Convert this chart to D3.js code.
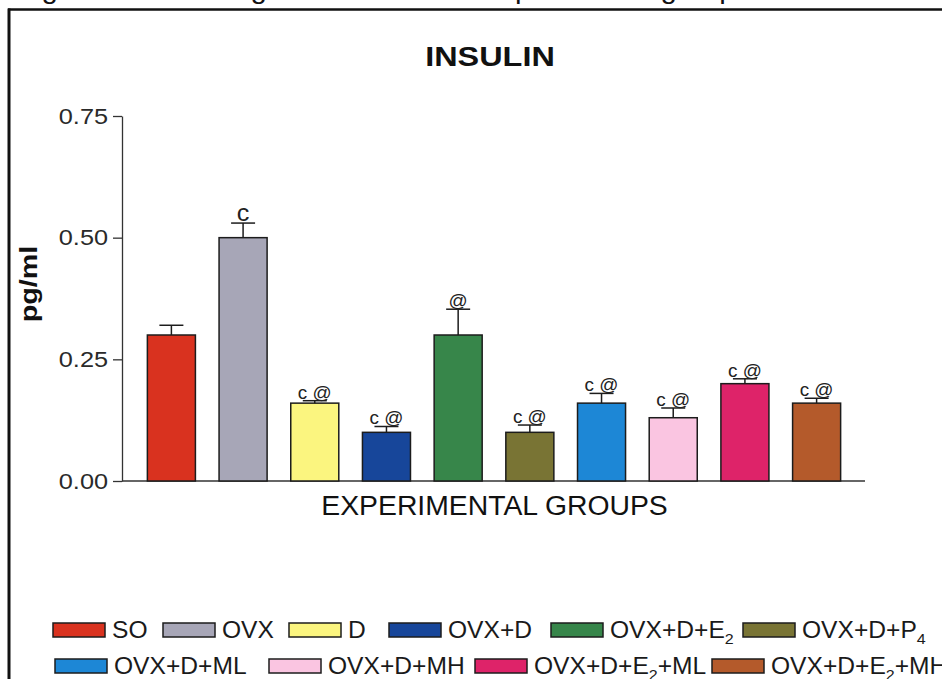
<!DOCTYPE html>
<html>
<head>
<meta charset="utf-8">
<script src="https://cdn.jsdelivr.net/npm/d3@7"></script>
<style>
  html, body { margin: 0; padding: 0; background: #fff; }
  svg { display: block; }
  text { font-family: "Liberation Sans", Arial, Helvetica, sans-serif; }
</style>
</head>
<body>
<svg id="chart" width="942" height="679"></svg>
<script>
// Fasting insulin per experimental group (mean, SEM and significance marks)
const groups = ["SO", "OVX", "D", "OVX+D", "OVX+D+E2", "OVX+D+P4",
                "OVX+D+ML", "OVX+D+MH", "OVX+D+E2+ML", "OVX+D+E2+MH"];
const insulin = [0.30, 0.50, 0.16, 0.10, 0.30, 0.10, 0.16, 0.13, 0.20, 0.16];
const sem     = [0.02, 0.03, 0.005, 0.012, 0.053, 0.015, 0.02, 0.02, 0.01, 0.01];
const marks   = ["", "c", "c @", "c @", "@", "c @", "c @", "c @", "c @", "c @"];
const colors  = ["#d9321f", "#a7a6b7", "#fbf57f", "#17469a", "#37864a", "#797434",
                 "#1d87d6", "#fac5e1", "#de2369", "#b45a2b"];
const yTicks  = [0, 0.25, 0.50, 0.75];
const legendRows = [[0, 1, 2, 3, 4, 5], [6, 7, 8, 9]];

const svg = d3.select("#chart");
const ink = "#1c1c1c";

// text drawn at (x, y) and widened horizontally by factor k
function wideText(g, x, y, k, anchor) {
  return g.append("text")
    .attr("transform", `translate(${x},${y}) scale(${k},1)`)
    .attr("text-anchor", anchor || "start");
}

// write a group name with E2 / P4 digits as subscripts
function writeLabel(textSel, name, subSize) {
  const parts = name.split(/(E2|P4)/).filter(s => s.length);
  let lowered = false;
  parts.forEach(p => {
    if (p === "E2" || p === "P4") {
      textSel.append("tspan").attr("dy", lowered ? -6 : null).text(p[0]);
      textSel.append("tspan").attr("dy", 6).attr("font-size", subSize).text(p[1]);
      lowered = true;
    } else {
      textSel.append("tspan").attr("dy", lowered ? -6 : null).text(p);
      lowered = false;
    }
  });
}

// caption line running above the frame
wideText(svg, 17, -2, 1.05).attr("font-size", 28).attr("fill", "#111")
  .text("Figure 13D Fasting insulin in all the experimental groups");

// frame
svg.append("line").attr("x1", 8).attr("x2", 942).attr("y1", 9.5).attr("y2", 9.5)
  .attr("stroke", "#111").attr("stroke-width", 2.5);
svg.append("line").attr("x1", 9).attr("x2", 9).attr("y1", 8.5).attr("y2", 679)
  .attr("stroke", "#111").attr("stroke-width", 3);

// scales
const x = d3.scaleBand().domain(groups).range([123, 865])
  .paddingInner(0.33).paddingOuter(0.34);
const y = d3.scaleLinear().domain([0, 0.75]).range([481, 116]);

// y axis
const tickSize = 9, tickPad = 5, tickK = 1.15;
const yAxis = svg.append("g").attr("transform", "translate(122,0)")
  .call(d3.axisLeft(y).tickValues(yTicks).tickFormat(d3.format(".2f"))
    .tickSize(tickSize).tickSizeOuter(0).tickPadding(tickPad));
yAxis.select(".domain").attr("stroke", "#333").attr("stroke-width", 1.3);
yAxis.selectAll(".tick line").attr("stroke", "#333").attr("stroke-width", 1.3);
yAxis.selectAll(".tick text")
  .attr("font-size", 22).attr("fill", "#2a2a2a")
  .attr("font-family", "'Liberation Sans', Arial, sans-serif")
  .attr("x", -(tickSize + tickPad) / tickK)
  .attr("transform", `scale(${tickK},1)`);

// x baseline
svg.append("line").attr("x1", 122).attr("x2", 865).attr("y1", y(0)).attr("y2", y(0))
  .attr("stroke", "#333").attr("stroke-width", 1.3);

// bars
const bars = svg.append("g");
bars.selectAll("rect").data(groups).join("rect")
  .attr("x", d => x(d))
  .attr("width", x.bandwidth())
  .attr("y", (d, i) => y(insulin[i]))
  .attr("height", (d, i) => y(0) - y(insulin[i]))
  .attr("fill", (d, i) => colors[i])
  .attr("stroke", ink).attr("stroke-width", 1.5);

// upper error bars
const capHalf = 12;
const err = svg.append("g").attr("stroke", ink).attr("stroke-width", 1.5);
groups.forEach((g, i) => {
  const cx = x(g) + x.bandwidth() / 2;
  const top = y(insulin[i] + sem[i]);
  err.append("line").attr("x1", cx).attr("x2", cx).attr("y1", y(insulin[i])).attr("y2", top);
  err.append("line").attr("x1", cx - capHalf).attr("x2", cx + capHalf).attr("y1", top).attr("y2", top);
});

// significance marks
groups.forEach((g, i) => {
  if (!marks[i]) return;
  const cx = x(g) + x.bandwidth() / 2;
  const top = y(insulin[i] + sem[i]);
  const big = marks[i] === "c";
  wideText(svg, cx, top - 2, 1.05, "middle")
    .attr("font-size", big ? 24 : 18).attr("fill", "#222")
    .text(marks[i]);
});

// titles
wideText(svg, 490, 66, 1.2, "middle").attr("font-size", 27).attr("font-weight", "bold")
  .attr("fill", "#111").text("INSULIN");
wideText(svg, 494.5, 515, 1.05, "middle").attr("font-size", 27).attr("fill", "#111")
  .text("EXPERIMENTAL GROUPS");
svg.append("text")
  .attr("transform", `translate(37,284) rotate(-90) scale(1.25,1)`)
  .attr("text-anchor", "middle").attr("font-size", 23).attr("font-weight", "bold")
  .attr("fill", "#111").text("pg/ml");

// legend
const legendSlots = [[53, 163, 289, 389, 551, 743], [55, 269, 475, 712]];
const legendRowY = [623, 659];
const swW = 52, swH = 14;
legendRows.forEach((row, r) => {
  row.forEach((gi, j) => {
    const sx = legendSlots[r][j];
    const sy = legendRowY[r];
    svg.append("rect").attr("x", sx).attr("y", sy).attr("width", swW).attr("height", swH)
      .attr("fill", colors[gi]).attr("stroke", ink).attr("stroke-width", 1.5);
    const t = wideText(svg, sx + swW + 7, sy + swH + 1, 1.07)
      .attr("font-size", 23).attr("fill", "#1a1a1a");
    writeLabel(t, groups[gi], 15);
  });
});
</script>
</body>
</html>
